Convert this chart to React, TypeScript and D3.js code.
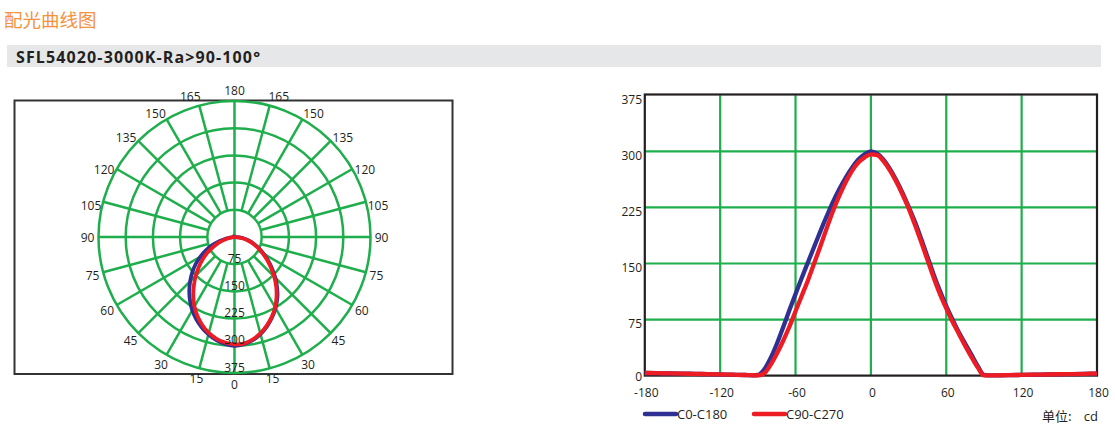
import React from 'react';
import * as d3 from 'd3';

const title = '配光曲线图';
const modelName = 'SFL54020-3000K-Ra>90-100°';
const seriesNames = ['C0-C180', 'C90-C270'];
const unitName = '单位:';
const unitValue = 'cd';

const angles = [
  -180, -170, -160, -150, -140, -130, -120, -110, -100, -95,
  -90, -85, -80, -75, -70, -65, -60, -55, -50, -45, -40, -35, -30, -25, -20, -15, -10, -5,
  0, 5, 10, 15, 20, 25, 30, 35, 40, 45, 50, 55, 60, 65, 70, 75, 80, 85, 90,
  95, 100, 110, 120, 130, 140, 150, 160, 170, 180,
];

const c0c180 = [
  3.5, 3.2, 3.0, 2.7, 2.3, 2.0, 1.6, 1.2, 0.8, 0.5,
  0.8, 8, 23, 42, 64, 87, 109, 131, 152, 173, 194, 214, 233, 250, 265, 278, 289, 296,
  300, 297, 289, 277, 262, 245, 226, 206, 183, 159, 135, 113, 93, 75, 58, 43, 28, 13, 1,
  0.3, 0.4, 0.6, 0.9, 1.2, 1.5, 1.8, 2.1, 2.4, 2.7,
];

const c90c270 = [
  3.5, 3.2, 3.0, 2.7, 2.3, 2.0, 1.6, 1.2, 0.8, 0.5,
  0.3, 3, 14, 29, 46, 65, 86, 107, 128, 151, 174, 198, 221, 241, 259, 274, 285, 292,
  296, 295, 287, 275, 260, 243, 224, 202, 179, 155, 131, 109, 90, 72, 56, 40, 25, 11, 0.3,
  0.3, 0.4, 0.6, 0.9, 1.2, 1.5, 1.8, 2.1, 2.4, 2.7,
];

const xTicks = [-180, -120, -60, 0, 60, 120, 180];
const yTicks = [0, 75, 150, 225, 300, 375];
const polarRings = [75, 150, 225, 300, 375];
const spokeAngles = [15, 30, 45, 60, 75, 90, 105, 120, 135, 150, 165];
const polarAngleLabels = [0, 15, 30, 45, 60, 75, 90, 105, 120, 135, 150, 165, 180];

const GREEN = '#1fae4c';
const BLUE = '#2e3192';
const RED = '#ed1c24';
const TEXT = '#231f20';
const NUM_FONT = '"Open Sans", "Noto Sans", sans-serif';
const CJK_FONT = '"Noto Sans CJK SC", "Noto Sans", sans-serif';

export default function App() {
  const W = 1115;
  const H = 442;

  // Cartesian chart
  const x = d3.scaleLinear().domain([-180, 180]).range([644.8, 1097]);
  const y = d3.scaleLinear().domain([0, 375]).range([375.6, 95.3]);
  const line = d3
    .line<number>()
    .x((_, i) => x(angles[i]))
    .y((d) => y(d))
    .curve(d3.curveMonotoneX);

  // Polar chart
  const cx = 234.5;
  const cy = 237;
  const r = d3.scaleLinear().domain([0, 375]).range([0, 136]);
  const radial = d3
    .lineRadial<number>()
    .angle((_, i) => Math.PI - (angles[i] * Math.PI) / 180)
    .radius((d) => r(d))
    .curve(d3.curveCatmullRom);

  const rad = (deg: number) => (deg * Math.PI) / 180;

  const labelPos = (deg: number, side: number) => {
    const adj = deg > 90 && deg < 180 ? deg - 2.5 : deg;
    const rr = 147;
    return {
      x: cx + side * rr * Math.sin(rad(adj)),
      y: cy + rr * Math.cos(rad(adj)),
    };
  };

  return (
    <svg
      width={W}
      height={H}
      viewBox={`0 0 ${W} ${H}`}
      style={{ position: 'absolute', left: 0, top: 0, background: '#fff' }}
    >
      {/* Header */}
      <text x={4} y={26.5} fontFamily={CJK_FONT} fontSize={18.5} fill="#f5923e">
        {title}
      </text>
      <rect x={7} y={45} width={1094} height={22} fill="#e6e7e8" />
      <text
        x={16}
        y={62.5}
        fontFamily={NUM_FONT}
        fontWeight={700}
        fontSize={16}
        fill={TEXT}
        textLength={244}
        lengthAdjust="spacing"
      >
        {modelName}
      </text>

      {/* Polar chart frame */}
      <rect x={14.5} y={100.5} width={438} height={273.5} fill="none" stroke="#333" strokeWidth={2} />

      <g transform={`translate(${cx},${cy})`}>
        {polarRings.map((v) => (
          <circle key={`ring${v}`} r={r(v)} fill="none" stroke={GREEN} strokeWidth={2.5} />
        ))}
        {spokeAngles.map((a) =>
          [-1, 1].map((s) => (
            <line
              key={`sp${a}_${s}`}
              x1={s * r(75) * Math.sin(rad(a))}
              y1={r(75) * Math.cos(rad(a))}
              x2={s * r(375) * Math.sin(rad(a))}
              y2={r(375) * Math.cos(rad(a))}
              stroke={GREEN}
              strokeWidth={2.5}
            />
          ))
        )}
        <line x1={0} y1={-r(375)} x2={0} y2={r(375)} stroke={GREEN} strokeWidth={2.5} />
        <path d={radial(c0c180) || ''} fill="none" stroke={BLUE} strokeWidth={3.8} />
        <path d={radial(c90c270) || ''} fill="none" stroke={RED} strokeWidth={3.8} />
        {polarRings.map((v) => (
          <text
            key={`rl${v}`}
            x={0}
            y={r(v) - 1.5}
            textAnchor="middle"
            fontFamily={NUM_FONT}
            fontSize={12}
            fill={TEXT}
          >
            {v}
          </text>
        ))}
      </g>
      {polarAngleLabels.map((a) => {
        const sides = a === 0 || a === 180 ? [1] : [-1, 1];
        return sides.map((s) => {
          const p = labelPos(a, s);
          return (
            <text
              key={`al${a}_${s}`}
              x={p.x}
              y={p.y}
              textAnchor="middle"
              dominantBaseline="central"
              fontFamily={NUM_FONT}
              fontSize={12}
              fill={TEXT}
            >
              {a}
            </text>
          );
        });
      })}

      {/* Cartesian chart */}
      {xTicks.slice(1, -1).map((t) => (
        <line key={`gx${t}`} x1={x(t)} x2={x(t)} y1={y(375)} y2={y(0)} stroke={GREEN} strokeWidth={2.2} />
      ))}
      {yTicks.slice(1, -1).map((t) => (
        <line key={`gy${t}`} x1={x(-180)} x2={x(180)} y1={y(t)} y2={y(t)} stroke={GREEN} strokeWidth={2.2} />
      ))}
      <rect
        x={x(-180)}
        y={y(375) - 0.8}
        width={x(180) - x(-180)}
        height={y(0) - y(375) + 0.8}
        fill="none"
        stroke={TEXT}
        strokeWidth={2.2}
      />
      <path d={line(c0c180) || ''} fill="none" stroke={BLUE} strokeWidth={4.3} strokeLinejoin="round" />
      <path d={line(c90c270) || ''} fill="none" stroke={RED} strokeWidth={4.3} strokeLinejoin="round" />

      {yTicks.map((t) => (
        <text
          key={`yl${t}`}
          x={642}
          y={y(t) + (t === 0 ? 0.4 : 3.8)}
          textAnchor="end"
          dominantBaseline="central"
          fontFamily={NUM_FONT}
          fontSize={12}
          fill={TEXT}
        >
          {t}
        </text>
      ))}
      {xTicks.map((t) => (
        <text
          key={`xl${t}`}
          x={x(t) + 1.5}
          y={392.4}
          textAnchor="middle"
          dominantBaseline="central"
          fontFamily={NUM_FONT}
          fontSize={12}
          fill={TEXT}
        >
          {t}
        </text>
      ))}

      {/* Legend */}
      {seriesNames.map((name, i) => {
        const lx = 645 + i * 109;
        return (
          <g key={name}>
            <line
              x1={lx}
              x2={lx + 31}
              y1={414}
              y2={414}
              stroke={i === 0 ? BLUE : RED}
              strokeWidth={4.5}
              strokeLinecap="round"
            />
            <text
              x={lx + 32}
              y={414}
              dominantBaseline="central"
              fontFamily={NUM_FONT}
              fontSize={13}
              fill={TEXT}
            >
              {name}
            </text>
          </g>
        );
      })}
      <text
        x={1042}
        y={415.5}
        dominantBaseline="central"
        fontFamily={CJK_FONT}
        fontSize={13}
        fill={TEXT}
      >
        {unitName}
      </text>
      <text
        x={1098}
        y={415.5}
        textAnchor="end"
        dominantBaseline="central"
        fontFamily={NUM_FONT}
        fontSize={13}
        fill={TEXT}
      >
        {unitValue}
      </text>
    </svg>
  );
}
